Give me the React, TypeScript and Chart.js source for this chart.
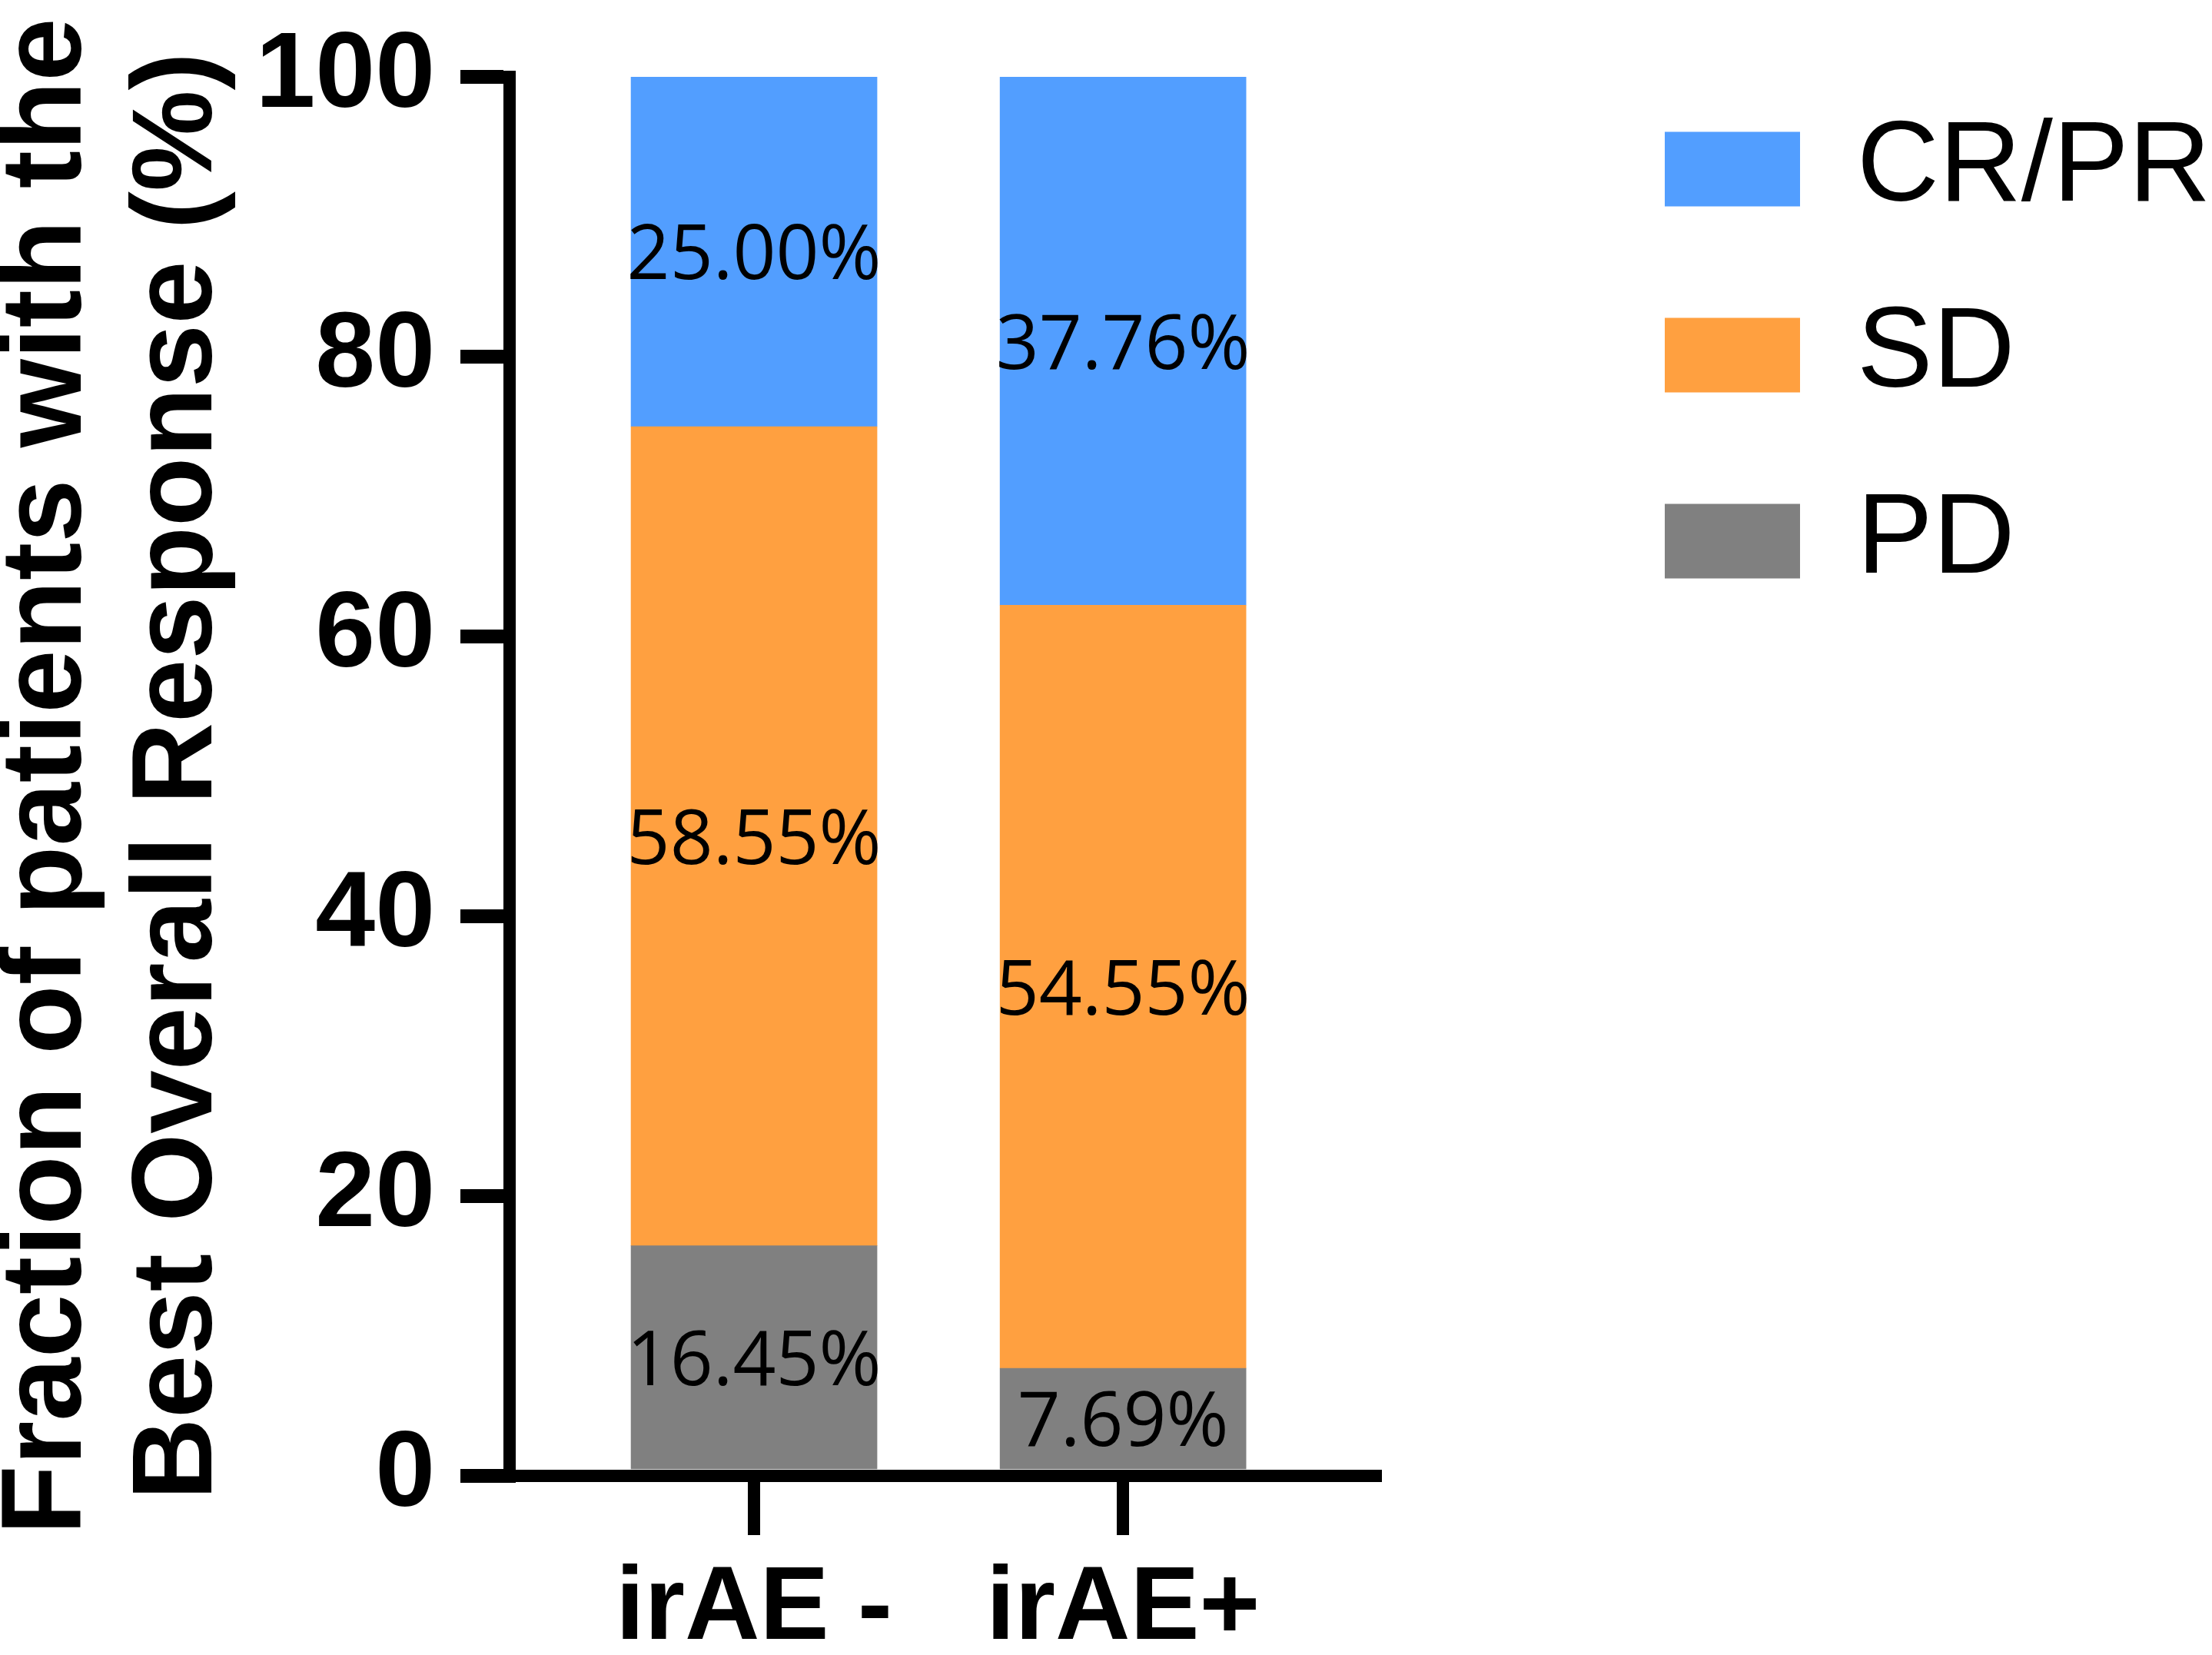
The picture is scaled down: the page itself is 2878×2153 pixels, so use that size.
import { useEffect, useRef } from 'react'
import { Chart, registerables, type ChartConfiguration, type Plugin } from 'chart.js'

Chart.register(...registerables)

// data
const CATEGORIES = ['irAE -', 'irAE+']
const PD = [16.45, 7.69]
const SD = [58.55, 54.55]
const CR_PR = [25.0, 37.76]
const Y_TICKS = [0, 20, 40, 60, 80, 100]
const Y_TITLE = ['Fraction of patients with the', 'Best Overall Response (%)']

const W = 2878
const H = 2153
const PLOT_LEFT = 663
const PLOT_TOP = 100
const PLOT_RIGHT = 1790
const PLOT_BOTTOM = 1920
const X_MIN = -0.6625
const X_MAX = 1.685

const ARIAL = "'Liberation Sans', Arial, sans-serif"
const BLACK = '#000000'

// percentages written in the middle of each stacked segment
const segmentLabels: Plugin<'bar'> = {
  id: 'segmentLabels',
  afterDatasetsDraw(chart) {
    const { ctx } = chart
    ctx.save()
    ctx.font = "98px 'Open Sans', sans-serif"
    ctx.fillStyle = BLACK
    ctx.textAlign = 'center'
    ctx.textBaseline = 'middle'
    chart.data.datasets.forEach((ds, di) => {
      const meta = chart.getDatasetMeta(di)
      meta.data.forEach((bar, i) => {
        const { x, y, base } = bar.getProps(['x', 'y', 'base'], true) as any
        const v = (ds.data[i] as any).y as number
        ctx.fillText(`${v.toFixed(2)}%`, x, (y + base) / 2 + 8)
      })
    })
    ctx.restore()
  },
}

function buildConfig(): ChartConfiguration<'bar'> {
  const series = [
    { label: 'PD', values: PD, color: '#808080' },
    { label: 'SD', values: SD, color: '#FFA040' },
    { label: 'CR/PR', values: CR_PR, color: '#529EFF' },
  ]

  return {
    type: 'bar',
    data: {
      datasets: series.map(s => ({
        label: s.label,
        data: CATEGORIES.map((_, i) => ({ x: i, y: s.values[i] })),
        backgroundColor: s.color,
        borderWidth: 0,
        barThickness: 320,
      })) as any,
    },
    options: {
      responsive: false,
      animation: false,
      devicePixelRatio: 1,
      events: [],
      layout: { padding: 0 },
      scales: {
        x: {
          type: 'linear',
          min: X_MIN,
          max: X_MAX,
          stacked: true,
          offset: false,
          afterBuildTicks: s => { s.ticks = CATEGORIES.map((_, value) => ({ value })) },
          afterFit: s => { s.height = H - PLOT_BOTTOM; s.paddingLeft = 0; s.paddingRight = 0 },
          grid: {
            drawOnChartArea: false, drawTicks: true, tickLength: 77,
            lineWidth: 16, color: BLACK, offset: false, z: 1,
          },
          border: { display: true, width: 16, color: BLACK, z: 1 },
          ticks: {
            color: BLACK, padding: 17, autoSkip: false, maxRotation: 0, minRotation: 0,
            font: { family: ARIAL, size: 135, weight: 'bold' },
            callback: v => CATEGORIES[Number(v)] ?? '',
          },
        },
        y: {
          type: 'linear',
          min: 0,
          max: 100,
          stacked: true,
          afterBuildTicks: s => { s.ticks = Y_TICKS.map(value => ({ value })) },
          afterFit: s => { s.width = PLOT_LEFT; s.paddingTop = PLOT_TOP; s.paddingBottom = 0 },
          grid: {
            drawOnChartArea: false, drawTicks: true, tickLength: 64,
            lineWidth: 18, color: BLACK, offset: false, z: 1,
          },
          border: { display: true, width: 16, color: BLACK, z: 1 },
          ticks: {
            color: BLACK, padding: 33,
            font: { family: ARIAL, size: 140, weight: 'bold' },
          },
          title: {
            display: true,
            text: Y_TITLE,
            color: BLACK,
            font: { family: ARIAL, size: 148, weight: 'bold', lineHeight: 1.149 },
            padding: { top: -21, bottom: 0 },
          },
        },
        // empty axis that keeps the gap between plot and legend
        spacer: {
          type: 'linear',
          axis: 'y',
          position: 'right',
          display: true,
          grid: { display: false },
          border: { display: false },
          ticks: { display: false },
          afterFit: s => { s.width = Math.max(0, W - PLOT_RIGHT - (s.chart.legend?.width ?? 0)) },
        },
      } as any,
      plugins: {
        tooltip: { enabled: false },
        legend: {
          position: 'right',
          align: 'start',
          reverse: true,
          maxWidth: 806,
          title: { display: true, text: ' ', padding: 0, font: { size: 52, lineHeight: 1 } },
          labels: {
            boxWidth: 176,
            boxHeight: 97,
            padding: 94,
            color: BLACK,
            font: { family: ARIAL, size: 148 },
          },
        },
      },
    },
    plugins: [segmentLabels],
  }
}

export default function App() {
  const canvasRef = useRef<HTMLCanvasElement>(null)
  const chartRef = useRef<Chart<'bar'> | null>(null)

  useEffect(() => {
    if (!canvasRef.current) return
    chartRef.current?.destroy()
    chartRef.current = new Chart(canvasRef.current, buildConfig())
    return () => { chartRef.current?.destroy(); chartRef.current = null }
  }, [])

  return (
    <div style={{ position: 'absolute', left: 0, top: 0, width: W, height: H, background: '#fff' }}>
      <canvas ref={canvasRef} width={W} height={H} />
    </div>
  )
}
